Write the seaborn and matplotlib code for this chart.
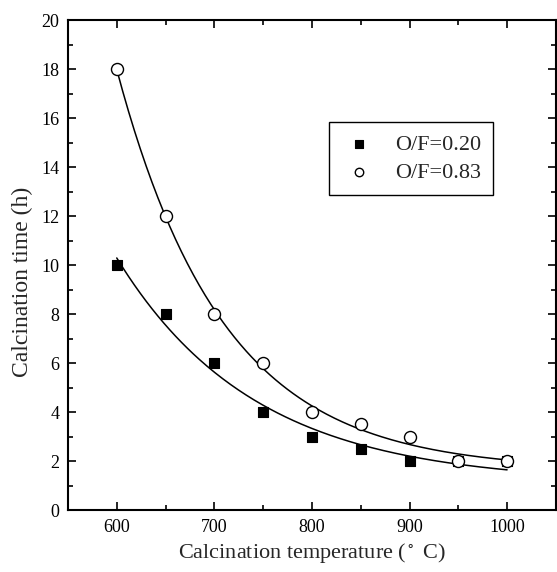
import numpy as np
import pandas as pd
import matplotlib
matplotlib.use("Agg")
import matplotlib.pyplot as plt
from matplotlib.ticker import MultipleLocator
import seaborn as sns

# data
temp_a = [600, 650, 700, 750, 800, 850, 900, 950, 1000]
time_a = [10, 8, 6, 4, 3, 2.5, 2, 2, 2]          # O/F=0.20
temp_b = [600, 650, 700, 750, 800, 850, 900, 950, 1000]
time_b = [18, 12, 8, 6, 4, 3.5, 3, 2, 2]   # O/F=0.83
labels = ["O/F=0.20", "O/F=0.83"]


def exp_fit(x, y):
    # y = y0 + A*exp(-(x-600)/t), grid over t, linear lsq for y0, A
    x = np.asarray(x, float)
    y = np.asarray(y, float)
    best = None
    for t in np.linspace(20, 600, 2000):
        M = np.column_stack([np.ones_like(x), np.exp(-(x - 600) / t)])
        coef, *_ = np.linalg.lstsq(M, y, rcond=None)
        err = np.sum((M @ coef - y) ** 2)
        if best is None or err < best[0]:
            best = (err, coef, t)
    _, (y0, A), t = best
    return lambda xx: y0 + A * np.exp(-(xx - 600) / t)


sns.set_style("ticks")
plt.rcParams["font.family"] = ["Liberation Serif", "DejaVu Serif"]
plt.rcParams["mathtext.fontset"] = "stix"

fig = plt.figure(figsize=(5.57, 5.72), dpi=100)
ax = fig.add_axes([0.122, 0.108, 0.876, 0.857])

xs = np.linspace(600, 1000, 200)
fa = exp_fit(temp_a, time_a)
fb = exp_fit(temp_b, time_b)
sns.lineplot(x=xs, y=fa(xs), color="black", lw=1.1, ax=ax)
sns.lineplot(x=xs, y=fb(xs), color="black", lw=1.1, ax=ax)

sns.scatterplot(x=temp_a, y=time_a, marker="s", s=60, color="black",
                edgecolor="black", linewidth=0.8, ax=ax, label=labels[0], zorder=3)
sns.scatterplot(x=temp_b, y=time_b, marker="o", s=75, facecolor="white",
                edgecolor="black", linewidth=1.0, ax=ax, label=labels[1], zorder=4)

ax.set_xlim(550, 1050)
ax.set_ylim(0, 20)
ax.xaxis.set_major_locator(MultipleLocator(100))
ax.xaxis.set_minor_locator(MultipleLocator(50))
ax.yaxis.set_major_locator(MultipleLocator(2))
ax.yaxis.set_minor_locator(MultipleLocator(1))
ax.tick_params(which="both", direction="in", top=True, right=True,
               labelsize=13, width=1.2, colors="black", pad=6)
ax.tick_params(which="major", length=6)
ax.tick_params(which="minor", length=3.5)
for sp in ax.spines.values():
    sp.set_linewidth(1.5)
    sp.set_color("black")

ax.set_xlabel("Calcination temperature ($^\\circ$ C)", fontsize=16, labelpad=4)
ax.set_ylabel("Calcination time (h)", fontsize=17)
ax.yaxis.set_label_coords(-0.072, 0.465)

leg = ax.legend(loc="upper left", bbox_to_anchor=(0.536, 0.792), fontsize=16,
                frameon=True, fancybox=False, edgecolor="black", framealpha=1,
                handlelength=1.6, handletextpad=0.8, borderpad=0.55,
                borderaxespad=0, labelspacing=0.35, markerscale=0.7)
leg.get_frame().set_linewidth(1.0)

fig.savefig("out.png", dpi=100)
